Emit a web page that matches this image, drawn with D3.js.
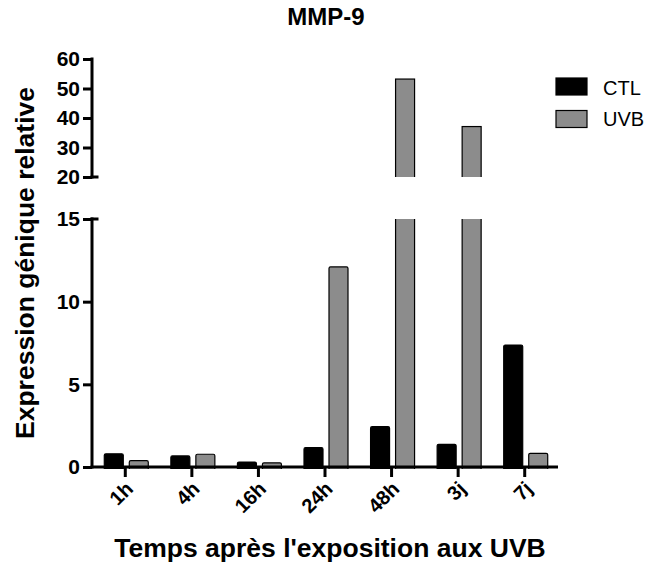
<!DOCTYPE html>
<html>
<head>
<meta charset="utf-8">
<script src="https://cdn.jsdelivr.net/npm/d3@7"></script>
<style>
  html, body { margin: 0; padding: 0; background: #fff; }
  svg { display: block; font-family: "Liberation Sans", Arial, sans-serif; }
</style>
</head>
<body>
<svg id="chart" width="650" height="565"></svg>
<script>
// Time points after UVB exposure
const categories = ["1h", "4h", "16h", "24h", "48h", "3j", "7j"];
const series = ["CTL", "UVB"];
const ctlValues = [0.8, 0.67, 0.3, 1.17, 2.44, 1.37, 7.38];
const uvbValues = [0.38, 0.77, 0.25, 12.1, 53.2, 37.1, 0.83];
const lowerTicks = [0, 5, 10, 15];
const upperTicks = [20, 30, 40, 50, 60];
const seriesColors = { CTL: "#000000", UVB: "#8c8c8c" };

const rows = categories.map((c, i) => ({ cat: c, CTL: ctlValues[i], UVB: uvbValues[i] }));

const svg = d3.select("#chart");

const axisX = 92;
const x0 = d3.scaleBand().domain(categories).range([axisX, 558]).paddingInner(0).paddingOuter(0);
const x1 = d3.scaleBand().domain(series).range([-21, 23]).paddingInner(0.24).paddingOuter(0);

// Broken y axis: lower segment 0–15, upper segment 20–60
const yLow = d3.scaleLinear().domain([0, 15]).range([467, 219]);
const yHigh = d3.scaleLinear().domain([20, 60]).range([177, 59]);

const defs = svg.append("defs");
defs.append("clipPath").attr("id", "clipLow")
  .append("rect").attr("x", 0).attr("width", 650)
  .attr("y", yLow(15)).attr("height", yLow(0) - yLow(15) + 2);
defs.append("clipPath").attr("id", "clipHigh")
  .append("rect").attr("x", 0).attr("width", 650)
  .attr("y", 0).attr("height", yHigh(20));

const flat = [];
rows.forEach(r => series.forEach(s => flat.push({ cat: r.cat, key: s, value: r[s] })));

// Lower segment bars
svg.append("g").attr("clip-path", "url(#clipLow)")
  .selectAll("rect").data(flat).join("rect")
  .attr("x", d => x0(d.cat) + x0.bandwidth() / 2 + x1(d.key))
  .attr("width", x1.bandwidth())
  .attr("y", d => d.value > 15 ? yLow(15) - 10 : yLow(d.value))
  .attr("height", d => yLow(0) - (d.value > 15 ? yLow(15) - 10 : yLow(d.value)) + 3)
  .attr("rx", 1.5)
  .attr("fill", d => seriesColors[d.key])
  .attr("stroke", "#000").attr("stroke-width", 1.2);

// Upper segment bars (only values above the break)
svg.append("g").attr("clip-path", "url(#clipHigh)")
  .selectAll("rect").data(flat.filter(d => d.value > 20)).join("rect")
  .attr("x", d => x0(d.cat) + x0.bandwidth() / 2 + x1(d.key))
  .attr("width", x1.bandwidth())
  .attr("y", d => yHigh(d.value))
  .attr("height", d => yHigh(20) - yHigh(d.value) + 10)
  .attr("fill", d => seriesColors[d.key])
  .attr("stroke", "#000").attr("stroke-width", 1.2);

// Y axes
function styleAxis(g) {
  g.select(".domain").remove();
  g.selectAll(".tick line").attr("stroke", "#000").attr("stroke-width", 3);
  g.selectAll(".tick text").attr("fill", "#000")
    .style("font-size", "21px").style("font-weight", "bold")
    .style("font-family", "'Liberation Sans', Arial, sans-serif");
}
const gLow = svg.append("g").attr("transform", `translate(${axisX},0)`)
  .call(d3.axisLeft(yLow).tickValues(lowerTicks).tickSize(9).tickSizeOuter(0).tickPadding(3));
styleAxis(gLow);
const gHigh = svg.append("g").attr("transform", `translate(${axisX},0)`)
  .call(d3.axisLeft(yHigh).tickValues(upperTicks).tickSize(9).tickSizeOuter(0).tickPadding(3));
styleAxis(gHigh);

// axis spines of both segments, drawn as filled strips
const spine = svg.append("g").attr("fill", "#000");
spine.append("rect").attr("x", axisX - 1.5).attr("width", 3)
  .attr("y", yLow(15) - 1.5).attr("height", yLow(0) - yLow(15) + 3);
spine.append("rect").attr("x", axisX - 1.5).attr("width", 3)
  .attr("y", yHigh(60) - 1.5).attr("height", yHigh(20) - yHigh(60) + 3);
// caps at the axis break
[yHigh(20), yLow(15)].forEach(yv => {
  spine.append("rect").attr("x", axisX - 1.5).attr("width", 8)
    .attr("y", yv - 1.5).attr("height", 3);
});

// X axis
const gx = svg.append("g").attr("transform", `translate(0,${yLow(0)})`)
  .call(d3.axisBottom(x0).tickSize(10).tickSizeOuter(0));
gx.select(".domain").remove();
gx.selectAll(".tick line").attr("stroke", "#000").attr("stroke-width", 3);
gx.selectAll(".tick text")
  .attr("fill", "#000")
  .style("font-size", "20px").style("font-weight", "bold")
  .style("font-family", "'Liberation Sans', Arial, sans-serif")
  .attr("text-anchor", "end")
  .attr("dy", null).attr("y", 0)
  .attr("transform", "translate(9,23) rotate(-45)");
spine.append("rect").attr("x", axisX - 1.5).attr("width", 558 - axisX + 1.5)
  .attr("y", yLow(0) - 1.5).attr("height", 3);

// Title and axis titles
svg.append("text").attr("x", 326).attr("y", 25).attr("text-anchor", "middle")
  .style("font-size", "24px").style("font-weight", "bold").text("MMP-9");
svg.append("text").attr("x", 330).attr("y", 557).attr("text-anchor", "middle")
  .style("font-size", "26.5px").style("font-weight", "bold").text("Temps après l'exposition aux UVB");
svg.append("text").attr("transform", "translate(34,263) rotate(-90)").attr("text-anchor", "middle")
  .style("font-size", "26.5px").style("font-weight", "bold").text("Expression génique relative");

// Legend
const legend = svg.append("g");
series.forEach((s, i) => {
  legend.append("rect").attr("x", 556).attr("y", 78 + i * 32.5)
    .attr("width", 31).attr("height", 17)
    .attr("fill", seriesColors[s]).attr("stroke", "#000").attr("stroke-width", 1.2);
  legend.append("text").attr("x", 603).attr("y", 95 + i * 31)
    .style("font-size", "20px").text(s);
});
</script>
</body>
</html>
